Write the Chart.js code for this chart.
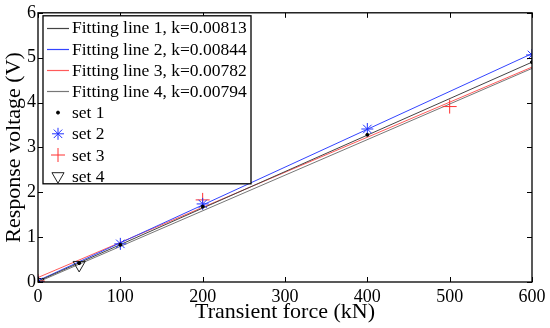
<!DOCTYPE html>
<html>
<head>
<meta charset="utf-8">
<script src="https://cdn.jsdelivr.net/npm/chart.js@4.4.0/dist/chart.umd.min.js"></script>
<style>
  html, body { margin: 0; padding: 0; background: #fff; }
  #wrap { width: 550px; height: 328px; }
</style>
</head>
<body>
<div id="wrap"><canvas id="chart" width="550" height="328"></canvas></div>
<script>
// fitting lines (end points at 0 and 600 kN)
const fitX = [0, 600];
const fit1 = [0.02, 4.90];
const fit2 = [0.03, 5.09];
const fit3 = [0.10, 4.79];
const fit4 = [0.00, 4.76];
const fitLabels = [
    'Fitting line 1, k=0.00813',
    'Fitting line 2, k=0.00844',
    'Fitting line 3, k=0.00782',
    'Fitting line 4, k=0.00794'
];

// measured sets
const set1X = [0, 50, 100, 200, 400, 600];
const set1Y = [0, 0.42, 0.83, 1.68, 3.28, 4.90];
const set2X = [0, 100, 200, 400, 600];
const set2Y = [0, 0.85, 1.74, 3.41, 5.06];
const set3X = [0, 200, 500];
const set3Y = [0.02, 1.83, 3.91];
const set4X = [0, 50];
const set4Y = [0, 0.38];
const setLabels = ['set 1', 'set 2', 'set 3', 'set 4'];

const xTicks = [0, 100, 200, 300, 400, 500, 600];
const yTicks = [0, 1, 2, 3, 4, 5, 6];

const FONT = '"Liberation Serif", serif';

function pts(xs, ys) {
    return xs.map((x, i) => ({ x: x, y: ys[i] }));
}

function fitLine(label, ys, color) {
    return {
        label: label,
        data: pts(fitX, ys),
        showLine: true,
        borderColor: color,
        borderWidth: 1,
        pointRadius: 0,
        isFit: true
    };
}

function markerSet(label, xs, ys, style, color, radius, rotation) {
    return {
        label: label,
        data: pts(xs, ys),
        showLine: false,
        pointStyle: style,
        pointRadius: radius,
        pointRotation: rotation || 0,
        pointBorderColor: color,
        pointBackgroundColor: style === 'circle' ? color : 'rgba(0,0,0,0)',
        pointBorderWidth: 1,
        borderColor: color,
        backgroundColor: color
    };
}

const datasets = [
    markerSet(setLabels[0], set1X, set1Y, 'circle', '#000', 1.5),
    markerSet(setLabels[1], set2X, set2Y, 'star', '#2233ff', 6),
    markerSet(setLabels[2], set3X, set3Y, 'cross', '#ff3030', 7),
    markerSet(setLabels[3], set4X, set4Y, 'triangle', '#222', 7, 180),
    fitLine(fitLabels[0], fit1, '#444'),
    fitLine(fitLabels[1], fit2, '#3344ff'),
    fitLine(fitLabels[2], fit3, '#ff5a5a'),
    fitLine(fitLabels[3], fit4, '#777')
];

// frame, inward ticks and boxed legend like the original figure
const framePlugin = {
    id: 'frame',
    afterDraw(chart) {
        const ctx = chart.ctx;
        const a = chart.chartArea;
        const xs = chart.scales.x, ys = chart.scales.y;
        ctx.save();
        ctx.strokeStyle = '#000';
        ctx.lineWidth = 1.3;
        ctx.strokeRect(a.left, a.top, a.right - a.left, a.bottom - a.top);
        ctx.lineWidth = 1;
        ctx.beginPath();
        xTicks.forEach(v => {
            const px = Math.round(xs.getPixelForValue(v)) + 0.5;
            ctx.moveTo(px, a.bottom); ctx.lineTo(px, a.bottom - 5);
            ctx.moveTo(px, a.top); ctx.lineTo(px, a.top + 5);
        });
        yTicks.forEach(v => {
            const py = Math.round(ys.getPixelForValue(v)) + 0.5;
            ctx.moveTo(a.left, py); ctx.lineTo(a.left + 5, py);
            ctx.moveTo(a.right, py); ctx.lineTo(a.right - 5, py);
        });
        ctx.stroke();

        // legend box
        const bx = a.left + 5, by = a.top + 3, bw = 208, bh = 168;
        ctx.fillStyle = '#fff';
        ctx.fillRect(bx, by, bw, bh);
        ctx.lineWidth = 1.3;
        ctx.strokeStyle = '#000';
        ctx.strokeRect(bx, by, bw, bh);

        const order = [4, 5, 6, 7, 0, 1, 2, 3];
        ctx.font = '17.5px ' + FONT;
        ctx.textBaseline = 'middle';
        ctx.textAlign = 'left';
        order.forEach((di, i) => {
            const ds = chart.data.datasets[di];
            const cy = by + 12 + i * 21.2;
            if (ds.isFit) {
                ctx.strokeStyle = ds.borderColor;
                ctx.lineWidth = 1.2;
                ctx.beginPath();
                ctx.moveTo(bx + 4, Math.round(cy) + 0.5);
                ctx.lineTo(bx + 26, Math.round(cy) + 0.5);
                ctx.stroke();
            } else {
                ctx.strokeStyle = ds.pointBorderColor;
                ctx.fillStyle = ds.pointBackgroundColor;
                ctx.lineWidth = 1;
                Chart.helpers.drawPoint(ctx, {
                    pointStyle: ds.pointStyle,
                    rotation: ds.pointRotation,
                    radius: ds.pointRadius,
                    borderWidth: 1
                }, bx + 15, cy);
            }
            ctx.fillStyle = '#000';
            ctx.fillText(ds.label, bx + 29, cy + 1);
        });
        ctx.restore();
    }
};

new Chart(document.getElementById('chart'), {
    type: 'scatter',
    data: { datasets: datasets },
    options: {
        responsive: false,
        animation: false,
        layout: { padding: { left: 0, right: 18, top: 12, bottom: 0 } },
        plugins: {
            legend: { display: false },
            tooltip: { enabled: false }
        },
        scales: {
            x: {
                type: 'linear',
                min: 0,
                max: 600,
                afterFit(scale) { scale.height = 46; },
                afterBuildTicks(scale) { scale.ticks = xTicks.map(v => ({ value: v })); },
                grid: { display: false, drawTicks: false },
                border: { display: false },
                ticks: {
                    color: '#000',
                    padding: 4,
                    maxRotation: 0,
                    font: { family: FONT, size: 18 }
                },
                title: {
                    display: true,
                    text: 'Transient force (kN)',
                    color: '#000',
                    padding: { top: 0, bottom: 3 },
                    font: { family: FONT, size: 22 }
                }
            },
            y: {
                type: 'linear',
                min: 0,
                max: 6,
                afterFit(scale) { scale.width = 38; },
                afterBuildTicks(scale) { scale.ticks = yTicks.map(v => ({ value: v })); },
                grid: { display: false, drawTicks: false },
                border: { display: false },
                ticks: {
                    color: '#000',
                    padding: 2,
                    font: { family: FONT, size: 18 }
                },
                title: {
                    display: true,
                    text: 'Response voltage (V)',
                    color: '#000',
                    padding: { top: 1, bottom: 0 },
                    font: { family: FONT, size: 22 }
                }
            }
        }
    },
    plugins: [framePlugin]
});
</script>
</body>
</html>
